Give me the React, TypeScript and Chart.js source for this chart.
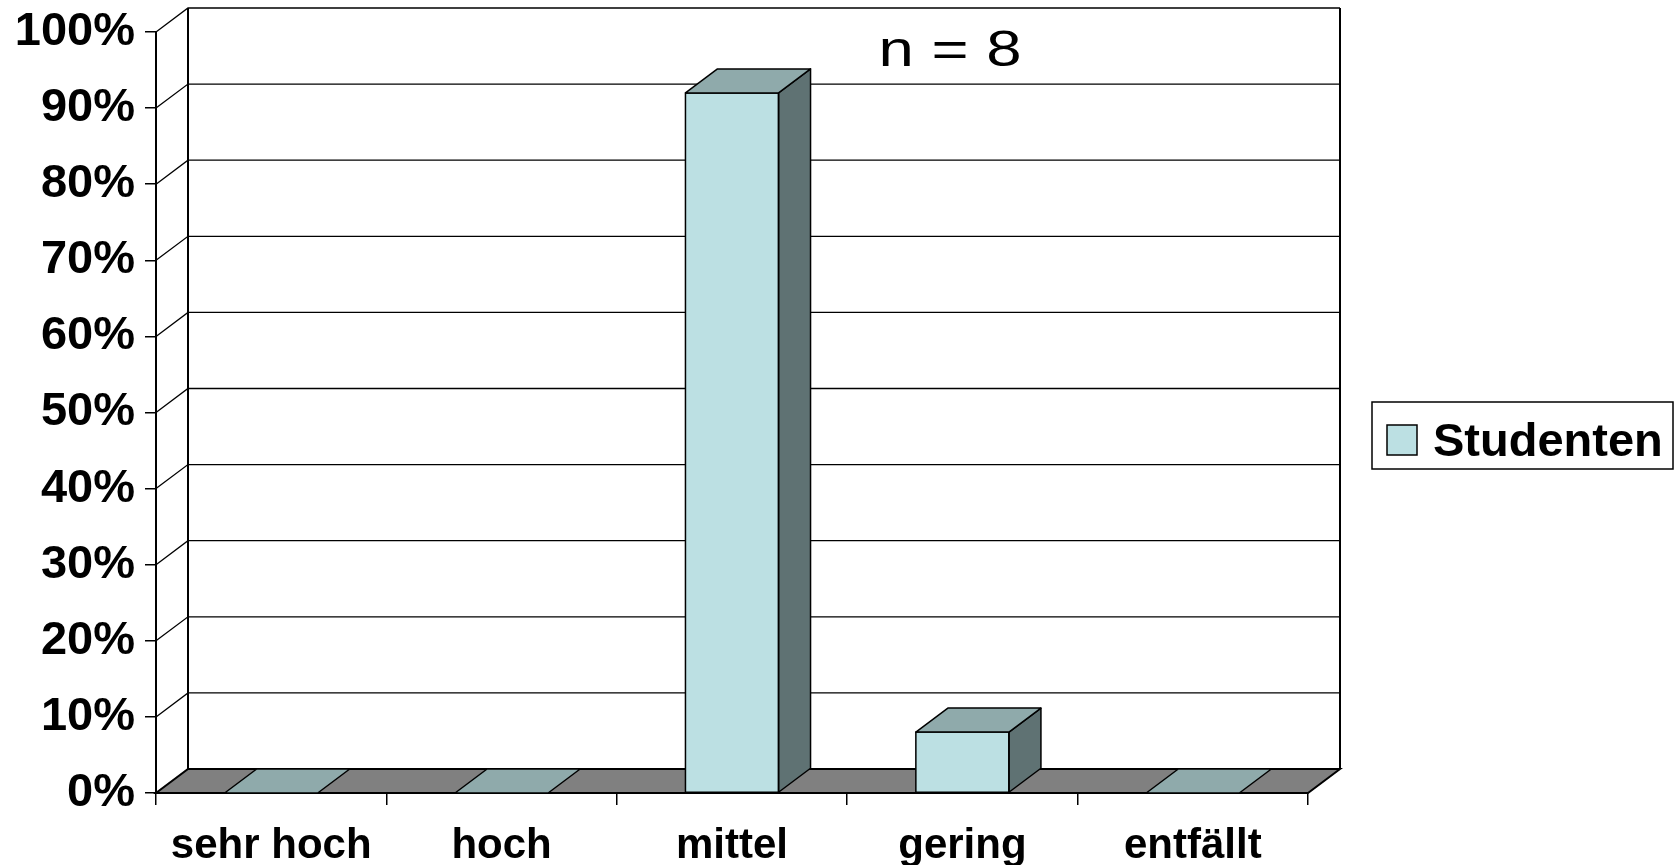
import React, { useEffect, useRef } from "react";
import { Chart, registerables } from "chart.js";

Chart.register(...registerables);

const categories = ["sehr hoch", "hoch", "mittel", "gering", "entfällt"];
const seriesName = "Studenten";
const studentenValues = [0, 0, 92, 8, 0];
const yTickValues = [0, 10, 20, 30, 40, 50, 60, 70, 80, 90, 100];
const annotationText = "n = 8";

const FONT = "'Liberation Sans', Arial, Helvetica, sans-serif";
const DX = 32;
const DY = -24;
const FRONT = "#BCE0E3";
const TOP = "#8FAAAB";
const SIDE = "#5F7273";
const FLOOR = "#808080";

const threeD = {
  id: "threeD",
  beforeDatasetsDraw(chart: any) {
    const { ctx, chartArea: a, scales } = chart;
    const y = scales.y;
    ctx.save();
    ctx.strokeStyle = "#000";
    ctx.lineWidth = 1.3;
    for (const v of yTickValues) {
      if (v === 0) continue;
      const py = y.getPixelForValue(v);
      ctx.beginPath();
      ctx.moveTo(a.left, py);
      ctx.lineTo(a.left + DX, py + DY);
      ctx.lineTo(a.right + DX, py + DY);
      ctx.stroke();
    }
    const yTop = y.getPixelForValue(100);
    const y0 = y.getPixelForValue(0);
    ctx.lineWidth = 2;
    ctx.beginPath();
    ctx.moveTo(a.left + DX, yTop + DY);
    ctx.lineTo(a.left + DX, y0 + DY);
    ctx.moveTo(a.right + DX, yTop + DY);
    ctx.lineTo(a.right + DX, y0 + DY);
    ctx.stroke();
    ctx.beginPath();
    ctx.moveTo(a.left, y0);
    ctx.lineTo(a.right, y0);
    ctx.lineTo(a.right + DX, y0 + DY);
    ctx.lineTo(a.left + DX, y0 + DY);
    ctx.closePath();
    ctx.fillStyle = FLOOR;
    ctx.fill();
    ctx.lineWidth = 2;
    ctx.stroke();
    ctx.restore();
  },
  afterDatasetsDraw(chart: any) {
    const { ctx } = chart;
    const meta = chart.getDatasetMeta(0);
    ctx.save();
    ctx.strokeStyle = "#000";
    ctx.lineWidth = 1.5;
    ctx.lineJoin = "round";
    meta.data.forEach((bar: any) => {
      const l = bar.x - bar.width / 2;
      const r = bar.x + bar.width / 2;
      const t = bar.y;
      const b = bar.base;
      if (b - t > 0.5) {
        ctx.beginPath();
        ctx.moveTo(r, t);
        ctx.lineTo(r + DX, t + DY);
        ctx.lineTo(r + DX, b + DY);
        ctx.lineTo(r, b);
        ctx.closePath();
        ctx.fillStyle = SIDE;
        ctx.fill();
        ctx.stroke();
        ctx.beginPath();
        ctx.rect(l, t, r - l, b - t);
        ctx.stroke();
      }
      ctx.beginPath();
      ctx.moveTo(l, t);
      ctx.lineTo(r, t);
      ctx.lineTo(r + DX, t + DY);
      ctx.lineTo(l + DX, t + DY);
      ctx.closePath();
      ctx.fillStyle = TOP;
      ctx.fill();
      ctx.stroke();
    });
    ctx.restore();
  },
  afterDraw(chart: any) {
    const { ctx } = chart;
    ctx.save();
    ctx.fillStyle = "#000";
    ctx.font = `50px ${FONT}`;
    ctx.textAlign = "center";
    ctx.textBaseline = "alphabetic";
    ctx.translate(950, 66);
    ctx.scale(1.27, 1);
    ctx.fillText(annotationText, 0, 0);
    ctx.restore();

    ctx.save();
    ctx.strokeStyle = "#000";
    ctx.lineWidth = 1.5;
    ctx.fillStyle = "#fff";
    ctx.fillRect(1372, 402, 301, 67);
    ctx.strokeRect(1372, 402, 301, 67);
    ctx.fillStyle = FRONT;
    ctx.fillRect(1387, 425, 30, 30);
    ctx.strokeRect(1387, 425, 30, 30);
    ctx.fillStyle = "#000";
    ctx.font = `bold 47px ${FONT}`;
    ctx.textAlign = "left";
    ctx.textBaseline = "alphabetic";
    ctx.fillText(seriesName, 1433, 456);
    ctx.restore();
  },
};

export default function App() {
  const ref = useRef<HTMLCanvasElement | null>(null);
  useEffect(() => {
    if (!ref.current) return;
    const chart = new Chart(ref.current, {
      type: "bar",
      data: {
        labels: categories,
        datasets: [
          {
            label: seriesName,
            data: studentenValues,
            backgroundColor: FRONT,
            borderColor: "#000",
            borderWidth: 0,
            barPercentage: 0.404,
            categoryPercentage: 1,
          },
        ],
      },
      options: {
        responsive: false,
        animation: false,
        devicePixelRatio: 1,
        layout: { padding: { top: 32, right: 367, left: 0, bottom: 0 } },
        plugins: { legend: { display: false }, tooltip: { enabled: false } },
        scales: {
          x: {
            afterFit: (s: any) => {
              s.height = 72;
              s.paddingLeft = 0;
              s.paddingRight = 0;
            },
            grid: {
              offset: true,
              drawOnChartArea: false,
              drawTicks: true,
              tickLength: 12,
              color: "#000",
              lineWidth: 1.5,
            },
            border: { display: true, color: "#000", width: 2 },
            ticks: {
              color: "#000",
              padding: 16,
              font: { family: FONT, size: 42, weight: "bold" },
              maxRotation: 0,
              autoSkip: false,
            },
          },
          y: {
            min: 0,
            max: 100,
            afterFit: (s: any) => {
              s.width = 156;
              s.paddingTop = 0;
              s.paddingBottom = 0;
            },
            afterBuildTicks: (s: any) => {
              s.ticks = yTickValues.map((v) => ({ value: v }));
            },
            grid: {
              drawOnChartArea: false,
              drawTicks: true,
              tickLength: 11,
              color: "#000",
              lineWidth: 1.5,
            },
            border: { display: true, color: "#000", width: 2 },
            ticks: {
              color: "#000",
              padding: 10,
              font: { family: FONT, size: 47, weight: "bold" },
              callback: (v: any) => `${v}%`,
            },
          },
        },
      },
      plugins: [threeD],
    });
    return () => chart.destroy();
  }, []);
  return (
    <div style={{ position: "fixed", left: 0, top: 0, width: 1675, height: 865, background: "#fff" }}>
      <canvas ref={ref} width={1675} height={865} style={{ display: "block" }} />
    </div>
  );
}
